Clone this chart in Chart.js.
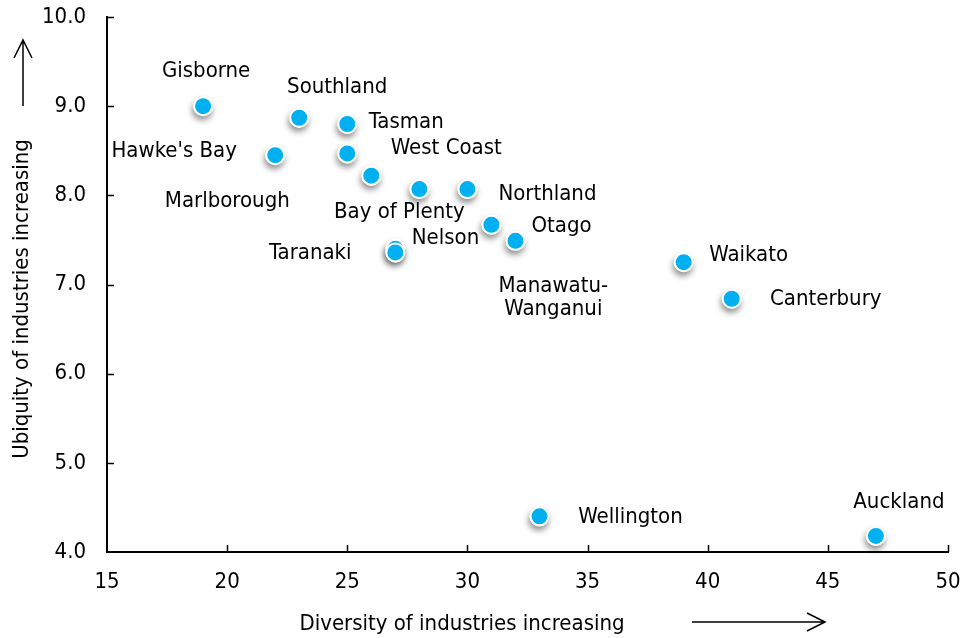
<!DOCTYPE html>
<html>
<head>
<meta charset="utf-8">
<script src="https://cdn.jsdelivr.net/npm/chart.js@4/dist/chart.umd.min.js"></script>
<style>
  html, body { margin: 0; padding: 0; background: #fff; }
  #wrap { width: 970px; height: 638px; position: relative; }
</style>
</head>
<body>
<div id="wrap"><canvas id="c" width="970" height="638"></canvas></div>
<script>
// ---- data ----
const regions = ["Gisborne", "Southland", "Tasman", "Hawke's Bay", "West Coast", "Marlborough",
  "Bay of Plenty", "Northland", "Nelson", "Otago", "Taranaki", "Manawatu-Wanganui",
  "Waikato", "Canterbury", "Wellington", "Auckland"];
const diversity = [19, 23, 25, 22, 25, 26, 28, 30, 31, 32, 27, 27, 39, 41, 33, 47];
const ubiquity = [9.00, 8.87, 8.80, 8.45, 8.47, 8.22, 8.07, 8.07, 7.67, 7.49, 7.40, 7.36, 7.25, 6.84, 4.40, 4.18];
const xTicks = [15, 20, 25, 30, 35, 40, 45, 50];
const yTicks = [4, 5, 6, 7, 8, 9, 10];
const xTitle = "Diversity of industries increasing";
const yTitle = "Ubiquity of industries increasing";

// label placement (pixel offsets of label centre from its point; multi-line allowed)
const labelOffsets = [
  [3, -35], [38, -30], [59, -2], [-101, -4], [99, -5], [-144, 26],
  [-20, 23], [80, 5], [-46, 14], [46, -15], [-85, 4], [158, 45],
  [65, -7], [94, 1], [91, 1], [23, -34]
];
const labelLines = regions.map(r => r === "Manawatu-Wanganui" ? ["Manawatu-", "Wanganui"] : [r]);

const FONT = '"DejaVu Sans Condensed", "DejaVu Sans", Verdana, sans-serif';
const FS = 22;

const points = diversity.map((x, i) => ({ x: x, y: ubiquity[i] }));

// soft drop shadow under each marker, drawn before the markers themselves
const shadowPlugin = {
  id: 'shadow',
  beforeDatasetsDraw(chart) {
    const ctx = chart.ctx;
    const meta = chart.getDatasetMeta(0);
    ctx.save();
    ctx.shadowColor = 'rgba(0,0,0,0.45)';
    ctx.shadowBlur = 6;
    ctx.shadowOffsetX = -1;
    ctx.shadowOffsetY = 4;
    ctx.fillStyle = '#ffffff';
    meta.data.forEach(el => {
      ctx.beginPath();
      ctx.arc(el.x, el.y, 10, 0, Math.PI * 2);
      ctx.fill();
    });
    ctx.restore();
  }
};

const decorPlugin = {
  id: 'decor',
  afterDraw(chart) {
    const ctx = chart.ctx;
    const xs = chart.scales.x, ys = chart.scales.y;
    const area = chart.chartArea;
    ctx.save();
    // inward tick marks
    ctx.strokeStyle = '#000';
    ctx.lineWidth = 1.5;
    xTicks.forEach(v => {
      if (v === xTicks[0]) return;
      const px = Math.round(xs.getPixelForValue(v)) + 0.5;
      ctx.beginPath();
      ctx.moveTo(px, area.bottom);
      ctx.lineTo(px, area.bottom - 7);
      ctx.stroke();
    });
    yTicks.forEach(v => {
      if (v === yTicks[0]) return;
      const py = Math.round(ys.getPixelForValue(v)) + 0.5;
      ctx.beginPath();
      ctx.moveTo(area.left, py);
      ctx.lineTo(area.left + 7, py);
      ctx.stroke();
    });

    // point labels
    ctx.fillStyle = '#000';
    ctx.font = FS + 'px ' + FONT;
    ctx.textAlign = 'center';
    ctx.textBaseline = 'middle';
    const meta = chart.getDatasetMeta(0);
    meta.data.forEach((el, i) => {
      const [dx, dy] = labelOffsets[i];
      const lines = labelLines[i];
      const lh = 23;
      lines.forEach((ln, k) => {
        const yy = el.y + dy + (k - (lines.length - 1) / 2) * lh;
        ctx.fillText(ln, el.x + dx, yy);
      });
    });

    // axis titles
    ctx.fillText(xTitle, 462, 624);
    ctx.save();
    ctx.translate(22, 299);
    ctx.rotate(-Math.PI / 2);
    ctx.fillText(yTitle, 0, 0);
    ctx.restore();

    // arrows
    ctx.lineWidth = 1.5;
    ctx.beginPath();
    ctx.moveTo(23, 106); ctx.lineTo(23, 40);
    ctx.moveTo(14, 58); ctx.lineTo(23, 40); ctx.lineTo(32, 58);
    ctx.stroke();
    ctx.beginPath();
    ctx.moveTo(692, 622); ctx.lineTo(825, 622);
    ctx.moveTo(807, 613); ctx.lineTo(825, 622); ctx.lineTo(807, 631);
    ctx.stroke();
    ctx.restore();
  }
};

new Chart(document.getElementById('c'), {
  type: 'scatter',
  data: {
    datasets: [{
      label: 'Regions',
      data: points,
      backgroundColor: '#00B0F0',
      borderColor: '#ffffff',
      borderWidth: 2,
      pointRadius: 9,
      pointHoverRadius: 9
    }]
  },
  options: {
    responsive: false,
    animation: false,
    events: [],
    layout: { padding: { top: 17, right: 22, left: 0, bottom: 0 } },
    plugins: {
      legend: { display: false },
      tooltip: { enabled: false }
    },
    scales: {
      x: {
        type: 'linear',
        min: 15, max: 50,
        afterFit(s) { s.height = 86; s.paddingLeft = 0; s.paddingRight = 0; },
        afterBuildTicks(s) { s.ticks = xTicks.map(v => ({ value: v })); },
        grid: { display: false, drawTicks: false },
        border: { display: true, color: '#000', width: 2 },
        ticks: {
          padding: 17,
          color: '#000',
          font: { family: FONT, size: FS },
          callback: v => String(v)
        }
      },
      y: {
        type: 'linear',
        min: 4, max: 10,
        afterFit(s) { s.width = 107; s.paddingTop = 0; s.paddingBottom = 0; },
        afterBuildTicks(s) { s.ticks = yTicks.map(v => ({ value: v })); },
        grid: { display: false, drawTicks: false },
        border: { display: true, color: '#000', width: 2 },
        ticks: {
          padding: 21,
          color: '#000',
          font: { family: FONT, size: FS },
          callback: v => Number(v).toFixed(1)
        }
      }
    }
  },
  plugins: [shadowPlugin, decorPlugin]
});
</script>
</body>
</html>
